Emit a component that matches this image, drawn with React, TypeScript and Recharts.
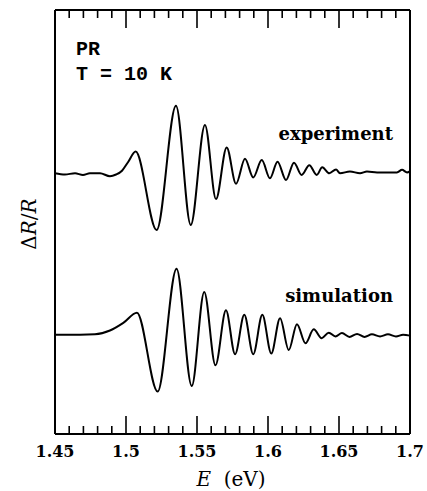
import { LineChart, Line, XAxis, YAxis } from 'recharts';

// photon energy (eV) and ΔR/R (arb. units)
const expEnergy = [
  1.45, 1.457, 1.4641, 1.4697, 1.4746, 1.4817, 1.4887, 1.493, 1.4972, 1.5014,
  1.5068, 1.5216, 1.5352, 1.5456, 1.5556, 1.5634, 1.5709, 1.5775, 1.5838, 1.5896,
  1.5956, 1.6014, 1.6067, 1.6127, 1.6183, 1.6237, 1.6291, 1.6343, 1.6382, 1.6432,
  1.6479, 1.6507, 1.6577, 1.6648, 1.6697, 1.6768, 1.6838, 1.6908, 1.6944, 1.6979, 1.7,
];
const expSignal = [
  6.15, 6.12, 6.15, 6.11, 6.15, 6.15, 6.08, 6.12, 6.21, 6.41,
  6.66, 4.81, 7.74, 4.93, 7.29, 5.54, 6.76, 5.9, 6.49, 6.05,
  6.46, 6.03, 6.42, 5.99, 6.4, 6.11, 6.34, 6.11, 6.29, 6.15,
  6.24, 6.15, 6.19, 6.15, 6.19, 6.17, 6.17, 6.17, 6.23, 6.17, 6.19,
];

const simEnergy = [
  1.45, 1.4676, 1.4782, 1.4887, 1.4981, 1.5077, 1.5223, 1.5356, 1.5463, 1.5551,
  1.563, 1.5704, 1.5768, 1.5833, 1.5896, 1.596, 1.6023, 1.6085, 1.6146, 1.6204,
  1.6264, 1.6322, 1.6378, 1.6428, 1.6475, 1.6521, 1.6574, 1.6627, 1.668, 1.6732,
  1.6789, 1.6845, 1.6901, 1.6951, 1.7,
];
const simSignal = [
  2.34, 2.34, 2.35, 2.44, 2.62, 2.86, 1.0, 3.9, 1.13, 3.35,
  1.62, 2.92, 1.88, 2.81, 1.88, 2.81, 1.9, 2.73, 1.98, 2.59,
  2.14, 2.47, 2.26, 2.39, 2.3, 2.38, 2.29, 2.36, 2.29, 2.35,
  2.3, 2.35, 2.3, 2.34, 2.32,
];

const xTicks = [
  1.45, 1.46, 1.47, 1.48, 1.49, 1.5, 1.51, 1.52, 1.53, 1.54, 1.55, 1.56, 1.57,
  1.58, 1.59, 1.6, 1.61, 1.62, 1.63, 1.64, 1.65, 1.66, 1.67, 1.68, 1.69, 1.7,
];
const majorTicks = [1.45, 1.5, 1.55, 1.6, 1.65, 1.7];

const experiment = expEnergy.map((e, i) => ({ e, v: expSignal[i] }));
const simulation = simEnergy.map((e, i) => ({ e, v: simSignal[i] }));

const serif = '"DejaVu Serif", serif';
const mono = '"Liberation Mono", monospace';

const BottomTick = (props: any) => {
  const { x, y, payload } = props;
  const major = majorTicks.includes(payload.value);
  return (
    <g>
      <line x1={x} y1={y} x2={x} y2={y - (major ? 18 : 8)} stroke="#000" strokeWidth={1.6} />
      {major && (
        <text x={x} y={y + 23} textAnchor="middle" fontFamily={serif} fontWeight="bold" fontSize={16} fill="#000">
          {String(payload.value)}
        </text>
      )}
    </g>
  );
};

const TopTick = (props: any) => {
  const { x, y, payload } = props;
  const major = majorTicks.includes(payload.value);
  return <line x1={x} y1={y} x2={x} y2={y + (major ? 18 : 8)} stroke="#000" strokeWidth={1.6} />;
};

const W = 427;
const H = 491;
const frame = { stroke: '#000', strokeWidth: 2 };

const App = () => {
  return (
    <div style={{ position: 'absolute', left: 0, top: 0, width: W, height: H }}>
      <LineChart width={W} height={H} margin={{ top: 9, right: 16, left: 54, bottom: 0 }}>
        <XAxis
          dataKey="e"
          type="number"
          domain={[1.45, 1.7]}
          ticks={xTicks}
          interval={0}
          height={57}
          tickSize={0}
          tickMargin={0}
          tickLine={false}
          tick={<BottomTick />}
          axisLine={frame}
        />
        <XAxis
          xAxisId="top"
          dataKey="e"
          orientation="top"
          type="number"
          domain={[1.45, 1.7]}
          ticks={xTicks}
          interval={0}
          height={1}
          tickSize={0}
          tickMargin={0}
          tickLine={false}
          tick={<TopTick />}
          axisLine={frame}
        />
        <YAxis type="number" domain={[0, 10]} width={1} tick={false} tickLine={false} axisLine={frame} />
        <YAxis
          yAxisId="r"
          orientation="right"
          type="number"
          domain={[0, 10]}
          width={1}
          tick={false}
          tickLine={false}
          axisLine={frame}
        />
        <Line data={experiment} dataKey="v" type="monotone" stroke="#000" strokeWidth={2} dot={false} isAnimationActive={false} />
        <Line
          data={simulation}
          xAxisId="top"
          dataKey="v"
          type="monotone"
          stroke="#000"
          strokeWidth={2}
          dot={false}
          isAnimationActive={false}
        />
      </LineChart>
      <svg width={W} height={H} style={{ position: 'absolute', left: 0, top: 0, pointerEvents: 'none' }}>
        <text x={76} y={55} fontFamily={mono} fontWeight="bold" fontSize={20} fill="#000">PR</text>
        <text x={76} y={80} fontFamily={mono} fontWeight="bold" fontSize={20} fill="#000">T = 10 K</text>
        <text x={393} y={140} textAnchor="end" fontFamily={serif} fontWeight="bold" fontSize={18} fill="#000">experiment</text>
        <text x={393} y={302} textAnchor="end" fontFamily={serif} fontWeight="bold" fontSize={18} fill="#000">simulation</text>
        <text x={231} y={486} textAnchor="middle" fontFamily={serif} fontSize={20} fill="#000" xmlSpace="preserve">
          <tspan fontStyle="italic">E</tspan>{'  (eV)'}
        </text>
        <text x={36} y={224} textAnchor="middle" fontFamily={serif} fontSize={20} fill="#000" transform="rotate(-90 36 224)">
          Δ<tspan fontStyle="italic">R</tspan>/<tspan fontStyle="italic">R</tspan>
        </text>
      </svg>
    </div>
  );
};

export default App;
